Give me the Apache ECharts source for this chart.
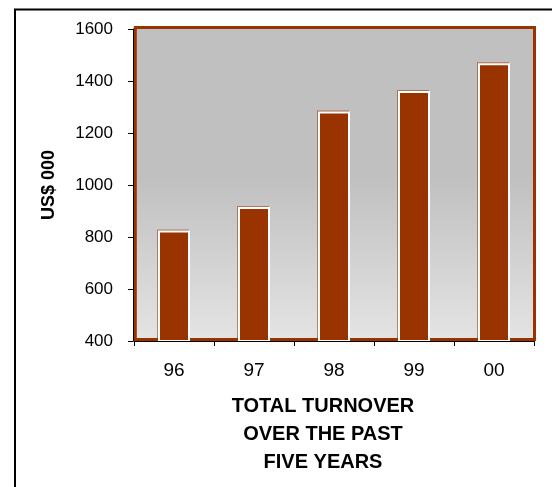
<!DOCTYPE html>
<html>
<head>
<meta charset="utf-8">
<script src="https://cdn.jsdelivr.net/npm/echarts@6.0.0/dist/echarts.min.js"></script>
<style>
  html, body { margin: 0; padding: 0; background: #fff; }
  #chart { width: 552px; height: 487px; }
</style>
</head>
<body>
<div id="chart"></div>
<script>
// Turnover by year (US$ 000)
const years = ['96', '97', '98', '99', '00'];
const turnover = [825, 915, 1283, 1362, 1468];
const axisMin = 400;
const axisMax = 1600;
const axisStep = 200;
const yAxisTitle = 'US$ 000';
const chartTitle = 'TOTAL TURNOVER\nOVER THE PAST\nFIVE YEARS';

const FONT = '"Liberation Sans", Arial, sans-serif';
const BROWN = '#993300';

const chart = echarts.init(document.getElementById('chart'), null, { renderer: 'canvas' });

chart.setOption({
  animation: false,
  backgroundColor: '#ffffff',
  title: {
    text: chartTitle,
    left: 318,
    top: 387,
    textAlign: 'center',
    textStyle: {
      fontFamily: FONT,
      fontSize: 20,
      fontWeight: 'bold',
      color: '#000',
      lineHeight: 28
    }
  },
  grid: {
    show: false,
    left: 134,
    right: 18,
    top: 29,
    bottom: 146
  },
  graphic: [
    {
      // outer frame around the whole chart
      type: 'rect',
      z: 0,
      shape: { x: 15, y: 9.5, width: 620, height: 620 },
      style: { fill: 'none', stroke: '#000', lineWidth: 2 }
    },
    {
      // plot area: grey gradient with brown border
      type: 'rect',
      z: 1,
      shape: { x: 135.3, y: 27.6, width: 399.2, height: 312 },
      style: {
        fill: new echarts.graphic.LinearGradient(0, 0, 0, 1, [
          { offset: 0, color: '#c0c0c0' },
          { offset: 0.48, color: '#c0c0c0' },
          { offset: 1, color: '#e4e4e4' }
        ]),
        stroke: BROWN,
        lineWidth: 3
      }
    }
  ],
  xAxis: {
    type: 'category',
    data: years,
    z: 3,
    axisLine: { show: true, lineStyle: { color: '#000', width: 1 } },
    axisTick: { show: true, length: 5, alignWithLabel: false, lineStyle: { color: '#000', width: 1 } },
    axisLabel: { fontFamily: FONT, fontSize: 19, color: '#000', margin: 20 },
    splitLine: { show: false }
  },
  yAxis: {
    type: 'value',
    min: axisMin,
    max: axisMax,
    interval: axisStep,
    offset: 1,
    z: 3,
    name: yAxisTitle,
    nameLocation: 'middle',
    nameGap: 75,
    nameTextStyle: { fontFamily: FONT, fontSize: 18, fontWeight: 'bold', color: '#000' },
    axisLine: { show: true, lineStyle: { color: '#000', width: 1 } },
    axisTick: { show: true, length: 5, lineStyle: { color: '#000', width: 1 } },
    axisLabel: {
      fontFamily: FONT,
      fontSize: 17,
      color: '#000',
      margin: 20,
      formatter: (v) => String(v)
    },
    splitLine: { show: false }
  },
  series: [
    {
      type: 'bar',
      data: turnover,
      barWidth: 32,
      z: 2,
      itemStyle: {
        color: BROWN,
        borderColor: '#ffffff',
        borderWidth: 2,
        shadowColor: 'rgba(153, 51, 0, 0.55)',
        shadowOffsetX: -1,
        shadowOffsetY: -1,
        shadowBlur: 0
      }
    }
  ]
});
</script>
</body>
</html>
